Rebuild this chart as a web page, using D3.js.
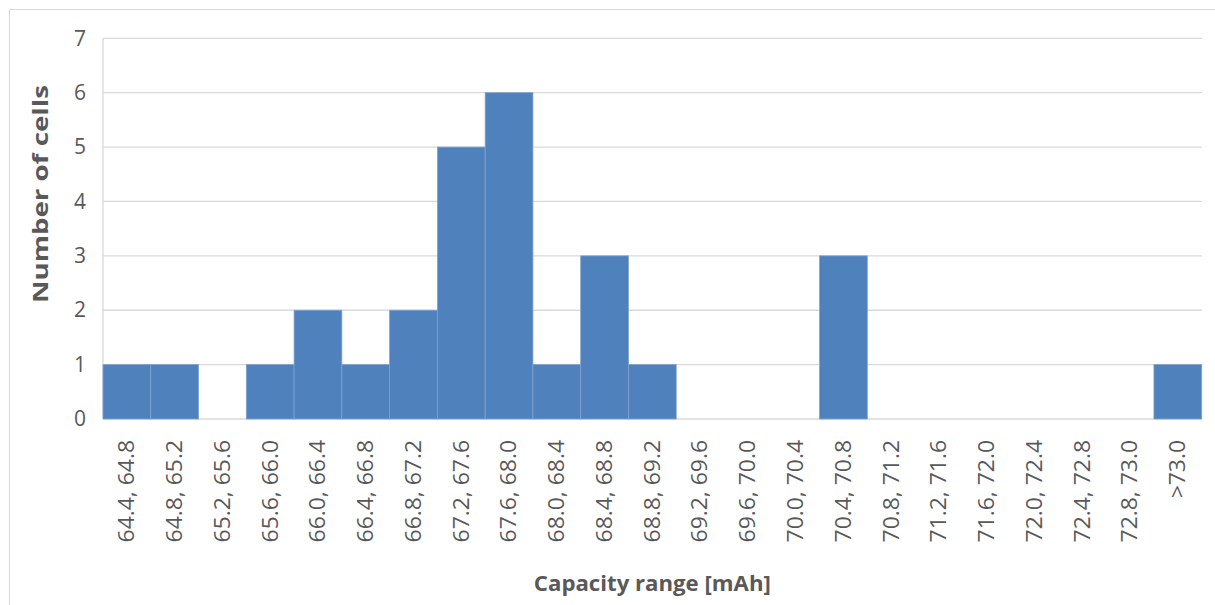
<!DOCTYPE html>
<html>
<head>
<meta charset="utf-8">
<script src="https://cdn.jsdelivr.net/npm/d3@7"></script>
<style>
  html, body { margin: 0; padding: 0; background: #fff; }
  svg { display: block; }
</style>
</head>
<body>
<svg id="chart" width="1215" height="605"></svg>
<script>
const categories = ["64.4, 64.8","64.8, 65.2","65.2, 65.6","65.6, 66.0","66.0, 66.4","66.4, 66.8","66.8, 67.2","67.2, 67.6","67.6, 68.0","68.0, 68.4","68.4, 68.8","68.8, 69.2","69.2, 69.6","69.6, 70.0","70.0, 70.4","70.4, 70.8","70.8, 71.2","71.2, 71.6","71.6, 72.0","72.0, 72.4","72.4, 72.8","72.8, 73.0",">73.0"];
const counts = [1,1,0,1,2,1,2,5,6,1,3,1,0,0,0,3,0,0,0,0,0,0,1];
const yTicks = [0,1,2,3,4,5,6,7];
const xTitle = "Capacity range [mAh]";
const yTitle = "Number of cells";

(function () {
const svg = d3.select("#chart");
const font = "'Open Sans', sans-serif";
const pL = 103, pR = 1201.7, pT = 38.3, pB = 419;

// outer border
svg.append("rect").attr("x", 9.5).attr("y", 9.5).attr("width", 1215).attr("height", 620)
  .attr("fill", "none").attr("stroke", "#d9d9d9").attr("stroke-width", 1);

const x = d3.scaleBand().domain(categories).range([pL, pR]).padding(0);
const y = d3.scaleLinear().domain([0, 7]).range([pB, pT]);

// gridlines
svg.append("g").selectAll("line").data(yTicks).join("line")
  .attr("x1", pL).attr("x2", pR)
  .attr("y1", d => y(d)).attr("y2", d => y(d))
  .attr("stroke", "#d9d9d9").attr("stroke-width", 1.3);

// left axis line
svg.append("line").attr("x1", pL).attr("x2", pL).attr("y1", pT).attr("y2", pB)
  .attr("stroke", "#d9d9d9").attr("stroke-width", 1.3);

// bars
svg.append("g").selectAll("rect").data(counts.map((v, i) => ({c: categories[i], v})).filter(d => d.v > 0)).join("rect")
  .attr("x", d => x(d.c)).attr("width", x.bandwidth())
  .attr("y", d => y(d.v)).attr("height", d => y(0) - y(d.v))
  .attr("fill", "#4f81bd").attr("stroke", "#7fa2cf").attr("stroke-width", 0.8);

// y axis
const yAxis = d3.axisLeft(y).tickValues(yTicks).tickSize(0).tickPadding(17).tickFormat(d3.format("d"));
const ya = svg.append("g").attr("transform", `translate(${pL},0)`).call(yAxis);
ya.select(".domain").remove();
ya.selectAll("text").attr("font-family", font).attr("font-size", 21).attr("fill", "#595959");

// x axis
const xAxis = d3.axisBottom(x).tickSize(0);
const xa = svg.append("g").attr("transform", `translate(0,${pB})`).call(xAxis);
xa.select(".domain").remove();
xa.selectAll("text")
  .attr("font-family", font).attr("font-size", 21).attr("fill", "#595959")
  .attr("transform", "rotate(-90) scale(1.09,1)")
  .attr("text-anchor", "end")
  .attr("x", -19.3).attr("y", 0).attr("dy", "0.35em");

// titles
svg.append("text").attr("x", (pL + pR) / 2).attr("y", 591)
  .attr("text-anchor", "middle").attr("font-family", font).attr("font-weight", "bold")
  .attr("font-size", 21).attr("fill", "#595959")
  .attr("textLength", 237).attr("lengthAdjust", "spacingAndGlyphs").text(xTitle);

svg.append("text").attr("transform", "translate(48,194) rotate(-90)")
  .attr("text-anchor", "middle").attr("font-family", font).attr("font-weight", "bold")
  .attr("font-size", 21).attr("fill", "#595959")
  .attr("textLength", 218).attr("lengthAdjust", "spacingAndGlyphs").text(yTitle);
})();
</script>
</body>
</html>
